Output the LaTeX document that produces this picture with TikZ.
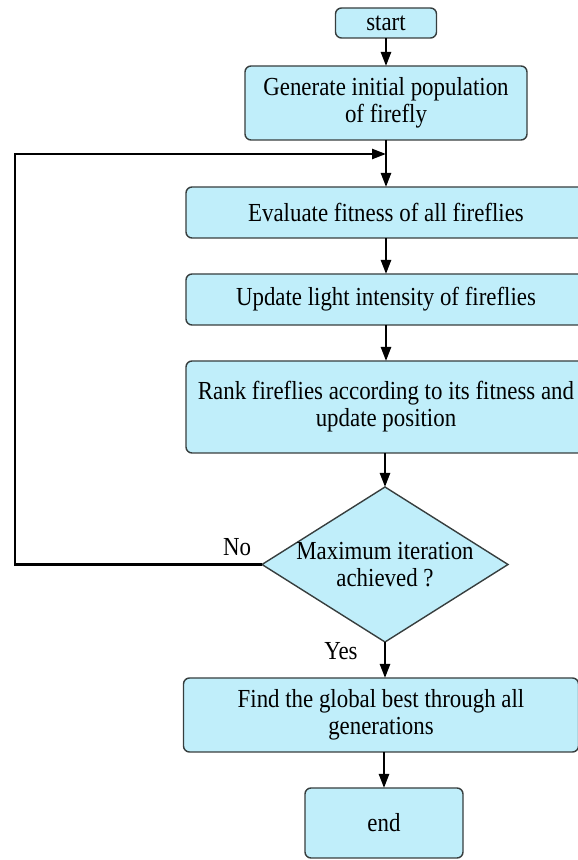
\documentclass[tikz,border=0pt]{standalone}
\usepackage{fontspec}
\setmainfont[FakeStretch=0.88]{Liberation Serif}
\usetikzlibrary{arrows.meta,positioning,shapes.geometric}
\definecolor{ffFill}{RGB}{192,238,250}
\definecolor{ffEdge}{RGB}{55,62,62}

\begin{document}
\begin{tikzpicture}[x=1pt,y=1pt,
  font=\fontsize{26}{27}\selectfont,
  node distance=36pt,
  B/.style={draw=ffEdge,fill=ffFill,line width=1.4pt,rounded corners=6pt,
            align=center,inner xsep=2pt,inner ysep=2pt,outer sep=0pt},
  D/.style={diamond,draw=ffEdge,fill=ffFill,line width=1.4pt,outer sep=0pt,
            minimum width=246pt,minimum height=155pt,inner sep=0pt},
  arr/.style={-{Triangle[length=14pt,width=10pt]},line width=2.4pt}]
\useasboundingbox (0,0) rectangle (578,860);
\clip (0,0) rectangle (578,860);
\node[B,minimum width=101pt,minimum height=30pt] (start) at (386,837) {start};
\node[B,minimum width=282pt,minimum height=74pt,below=28pt of start]
  (init) {Generate initial population\\ of firefly};
\node[B,minimum width=400pt,minimum height=51pt,below=47pt of init]
  (eval) {Evaluate fitness of all fireflies};
\node[B,minimum width=400pt,minimum height=51pt,below=of eval]
  (light) {Update light intensity of fireflies};
\node[B,minimum width=400pt,minimum height=92pt,below=of light]
  (rank) {Rank fireflies according to its fitness and\\ update position};
\node[D,below=34pt of rank,xshift=-1pt] (maxit) {};
\node[align=center] (maxtxt) at (maxit) {Maximum iteration\\ achieved ?};
\node[B,minimum width=395pt,minimum height=74pt,below=of maxit,xshift=-4pt]
  (best) {Find the global best through all\\ generations};
\node[B,minimum width=158pt,minimum height=70pt,below=of best,xshift=3pt]
  (end) {end};
\coordinate[below=14pt of init] (back);
\node (no) at (237,313) {No};
\node (yes) at (341,209) {Yes};
\draw[arr] (start) -- (init);
\draw[arr] (init) -- (eval);
\draw[arr] (eval) -- (light);
\draw[arr] (light) -- (rank);
\draw[arr] (rank.south -| maxit) -- (maxit.north);
\draw[arr] (maxit.south) -- (maxit.south |- best.north);
\draw[arr] (best.south -| end) -- (end.north);
\draw[arr] (maxit.west) -- ++(-247,0) |- (back);
\end{tikzpicture}
\end{document}
